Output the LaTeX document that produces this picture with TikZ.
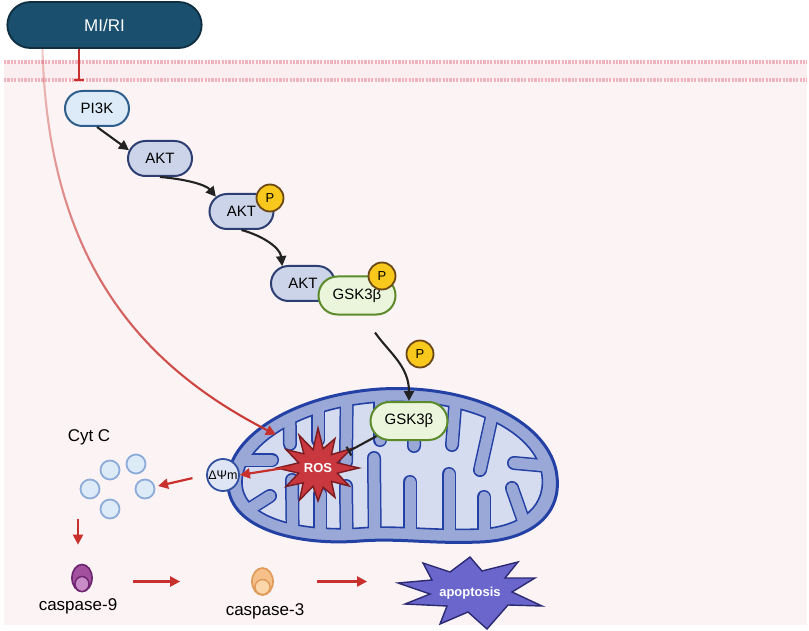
\documentclass[tikz,border=0pt]{standalone}
\usepackage{fontspec}
\setmainfont{Liberation Sans}
\usetikzlibrary{arrows.meta,shapes.misc,shapes.geometric,fadings,calc}
\definecolor{cellpink}{HTML}{FCF3F4}
\definecolor{bandpink}{HTML}{FBEEF0}
\definecolor{memdot}{HTML}{EFB3BD}
\definecolor{miblue}{HTML}{1A4F6D}
\definecolor{midark}{HTML}{0F2E40}
\definecolor{pithreef}{HTML}{DDEBF8}
\definecolor{pithreeb}{HTML}{2E5E8C}
\definecolor{aktf}{HTML}{CCD4E9}
\definecolor{aktb}{HTML}{2C3E72}
\definecolor{gskf}{HTML}{EBF5DC}
\definecolor{gskb}{HTML}{5C8B2C}
\definecolor{pf}{HTML}{F8C81C}
\definecolor{pb}{HTML}{6B4815}
\definecolor{mitomid}{HTML}{9AA8D7}
\definecolor{mitoline}{HTML}{2340A4}
\definecolor{mitoin}{HTML}{D5DCF0}
\definecolor{rosf}{HTML}{C9383F}
\definecolor{rosb}{HTML}{7A1B20}
\definecolor{apof}{HTML}{6A66CC}
\definecolor{apob}{HTML}{2B2A72}
\definecolor{dpsif}{HTML}{DEE6F6}
\definecolor{dpsib}{HTML}{3350A0}
\definecolor{cytf}{HTML}{DDEAF8}
\definecolor{cytb}{HTML}{8DACDA}
\definecolor{cninef}{HTML}{A3509F}
\definecolor{cnineb}{HTML}{6E2670}
\definecolor{cninein}{HTML}{C98CC7}
\definecolor{cthreef}{HTML}{F6C08B}
\definecolor{cthreeb}{HTML}{E09B5A}
\definecolor{cthreein}{HTML}{FAD6AA}
\definecolor{arrred}{HTML}{C7302C}
\definecolor{blk}{HTML}{222222}
\newcommand{\myfs}[1]{\fontsize{#1}{#1}\selectfont}
\tikzfading[name=redfade, top color=transparent!75, middle color=transparent!0, bottom color=transparent!0]
\begin{document}
\begin{tikzpicture}[x=1pt,y=-1pt,
  pill/.style={rounded rectangle, draw, line width=2pt, minimum width=64pt, minimum height=35pt, inner sep=0pt, font=\myfs{15}},
  pistyle/.style={pill, fill=pithreef, draw=pithreeb},
  aktstyle/.style={pill, fill=aktf, draw=aktb},
  gskstyle/.style={pill, fill=gskf, draw=gskb, minimum width=77pt, minimum height=38pt},
  pcirc/.style={circle, fill=pf, draw=pb, line width=1.8pt, minimum size=27pt, inner sep=0pt, font=\myfs{13}},
  cyt/.style={circle, fill=cytf, draw=cytb, line width=1.8pt, minimum size=19pt, inner sep=0pt},
  redarrow/.style={draw=arrred, line width=2.2pt, -{Triangle[width=10pt,length=10pt]}},
  blkarrow/.style={draw=blk, line width=2.1pt, -{Triangle[width=10pt,length=10pt]}},
  fingerb/.style={draw=mitoline, line width=14pt, line cap=round},
  fingerm/.style={draw=mitomid, line width=11pt, line cap=round},
  lbl/.style={font=\myfs{17}, inner sep=0pt}
]
\useasboundingbox (0,0) rectangle (809,631);
\fill[white] (0,0) rectangle (809,631);
% cell
\fill[cellpink] (4,60) rectangle (807,625);
\fill[bandpink] (4,62) rectangle (807,80);
\draw[memdot, line width=3.2pt, dash pattern=on 2.2pt off 1.2pt] (4,62) -- (807,62);
\draw[memdot, line width=3.2pt, dash pattern=on 2.2pt off 1.2pt] (4,80) -- (807,80);

% MI/RI
\node[rounded rectangle, fill=miblue, draw=midark, line width=1.8pt, minimum width=201pt, minimum height=46pt, text=white, font=\myfs{17}] (mi) at (104.5,25) {MI/RI};

% pathway
\node[pistyle] (pi3k) at (97,108.5) {PI3K};
\node[aktstyle] (akt1) at (160,158.5) {AKT};
\node[aktstyle] (akt2) at (241.5,211.5) {AKT};
\node[pcirc] (p1) at (270,198) {P};
\node[aktstyle] (akt3) at (303,283.5) {AKT};
\node[gskstyle] (gsk1) at (357,295.5) {GSK3β};
\node[pcirc] (p2) at (382,276) {P};
\node[pcirc] (p3) at (420,354) {P};

% mitochondrion
\fill[mitomid] (228,485) .. controls (224,440) and (290,395) .. (380,389) .. controls (470,384) and (545,420) .. (556,470) .. controls (565,515) and (530,540) .. (480,542) .. controls (430,544) and (400,538) .. (360,541) .. controls (300,546) and (230,530) .. (228,485) -- cycle;
\filldraw[fill=mitoin, draw=mitoline, line width=1.6pt] (242,484) .. controls (240,447) and (298,407) .. (380,402) .. controls (462,397) and (530,428) .. (541,470) .. controls (549,505) and (522,527) .. (480,529) .. controls (430,531) and (400,525) .. (360,528) .. controls (305,532) and (244,520) .. (242,484) -- cycle;
\begin{scope}
\clip (242,484) .. controls (240,447) and (298,407) .. (380,402) .. controls (462,397) and (530,428) .. (541,470) .. controls (549,505) and (522,527) .. (480,529) .. controls (430,531) and (400,525) .. (360,528) .. controls (305,532) and (244,520) .. (242,484) -- cycle;
\foreach \a/\b/\c/\d in {289/370/290/444, 318/370/318/440, 347/370/346/462, 380/370/380/440, 415/370/414/446, 458/370/452/445, 500/380/480/470, 570/468/514/463, 215/460/272/460, 240/515/270/496, 293/560/292/480, 320/560/320/494, 347/560/346/486, 375/560/374/458, 410/560/410/482, 449/560/449/474, 484/560/484/497, 532/545/512/488}
  \draw[fingerb] (\a,\b) -- (\c,\d);
\end{scope}
\begin{scope}
\clip (228,485) .. controls (224,440) and (290,395) .. (380,389) .. controls (470,384) and (545,420) .. (556,470) .. controls (565,515) and (530,540) .. (480,542) .. controls (430,544) and (400,538) .. (360,541) .. controls (300,546) and (230,530) .. (228,485) -- cycle;
\foreach \a/\b/\c/\d in {289/370/290/444, 318/370/318/440, 347/370/346/462, 380/370/380/440, 415/370/414/446, 458/370/452/445, 500/380/480/470, 570/468/514/463, 215/460/272/460, 240/515/270/496, 293/560/292/480, 320/560/320/494, 347/560/346/486, 375/560/374/458, 410/560/410/482, 449/560/449/474, 484/560/484/497, 532/545/512/488}
  \draw[fingerm] (\a,\b) -- (\c,\d);
\end{scope}
\draw[mitoline, line width=3pt] (228,485) .. controls (224,440) and (290,395) .. (380,389) .. controls (470,384) and (545,420) .. (556,470) .. controls (565,515) and (530,540) .. (480,542) .. controls (430,544) and (400,538) .. (360,541) .. controls (300,546) and (230,530) .. (228,485) -- cycle;

% ROS star
\begin{scope}[shift={(318,468)}]
\draw[fill=rosf, draw=rosb, line width=1.4pt, line join=miter] (0:41) -- (15:20) -- (30:36) -- (45:19) -- (60:34) -- (75:20) -- (90:33) -- (105:19) -- (120:37) -- (135:21) -- (150:37) -- (165:20) -- (180:41) -- (195:20) -- (210:37) -- (225:20) -- (240:38) -- (255:19) -- (270:40) -- (285:20) -- (300:34) -- (315:19) -- (330:39) -- (345:20) -- cycle;
\end{scope}
\node[circle, minimum size=68pt, inner sep=0pt, text=white, font=\bfseries\myfs{13}] (ros) at (318,468) {ROS};

\node[gskstyle] (gsk2) at (409,421) {GSK3β};
\node[circle, fill=dpsif, draw=dpsib, line width=1.8pt, minimum size=32pt, inner sep=0pt, font=\myfs{12.5}] (dpsi) at (223,475) {ΔΨm};

% Cyt C
\node[lbl, font=\myfs{17}] (cytc) at (89,437) {Cyt C};
\node[cyt] (c1) at (110,470) {};
\node[cyt] (c2) at (136,464) {};
\node[cyt] (c3) at (90,489) {};
\node[cyt] (c4) at (145,489) {};
\node[cyt] (c5) at (110,509) {};

% caspases
\node[ellipse, fill=cninef, draw=cnineb, line width=1.7pt, minimum width=20pt, minimum height=27pt, inner sep=0pt] (c9icon) at (82,578) {};
\fill[cninein, draw=cnineb, line width=1.5pt] (82,584) ellipse [x radius=7, y radius=7.5];
\node[lbl] (casp9lbl) at (78,606) {caspase-9};
\node[ellipse, fill=cthreef, draw=cthreeb, line width=1.7pt, minimum width=21pt, minimum height=27pt, inner sep=0pt] (c3icon) at (262.5,581.5) {};
\fill[cthreein, draw=cthreeb, line width=1.5pt] (262.5,587) ellipse [x radius=7.5, y radius=7.5];
\node[lbl] (casp3lbl) at (265,611) {caspase-3};

% apoptosis
\draw[fill=apof, draw=apob, line width=1.4pt, line join=miter] (398,583) -- (432,580) -- (423,563) -- (450,572) -- (470,557) -- (482,571) -- (518,562) -- (505,578) -- (535,578) -- (512,592) -- (542,606) -- (508,605) -- (487,629) -- (468,612) -- (440,624) -- (447,606) -- (405,604) -- (430,594) -- cycle;
\node[text=white, font=\bfseries\myfs{13}, inner sep=0pt] (apo) at (470,593) {apoptosis};

% connectors
\draw[draw=arrred, line width=2.1pt, -{Bar[width=10pt,line width=2.1pt]}, shorten >=9pt] ([xshift=-25.5pt]mi.south) -- ([xshift=-25.5pt]mi.south |- pi3k.north);
\draw[blkarrow] (pi3k.south) -- (akt1.165);
\draw[blkarrow] (akt1.south) .. controls +(25,2) and +(-10,-12) .. (akt2.150);
\draw[blkarrow] (akt2.south) .. controls +(22,6) and +(-2,-18) .. (akt3.140);
\draw[blkarrow] ([xshift=18pt,yshift=-17pt]gsk1.south) .. controls +(14,20) and +(0,-35) .. (gsk2.north);
\draw[draw=blk, line width=2.1pt, -{Bar[width=10pt,line width=2.1pt]}] (gsk2.205) -- (ros);
\path[draw=arrred, line width=2.1pt, -{Triangle[width=10pt,length=10pt]}, path fading=redfade, shorten >=20pt] ([xshift=-62pt]mi.south) .. controls (48,260) and (140,365) .. (ros.north west);
\draw[redarrow, shorten <=-8pt] (ros.west) -- (dpsi.east);
\draw[redarrow, shorten <=14pt, shorten >=3pt] (dpsi.west) -- (c4);
\draw[redarrow] (c5.south -| casp9lbl) -- ([yshift=19pt]c9icon.north -| casp9lbl);
\draw[redarrow] ([xshift=40pt]c9icon.east |- c3icon) -- ([xshift=-71pt]c3icon.west);
\draw[redarrow, shorten <=43pt, shorten >=72pt] (c3icon.east) -- (c3icon.east -| apo.west);
\end{tikzpicture}
\end{document}
